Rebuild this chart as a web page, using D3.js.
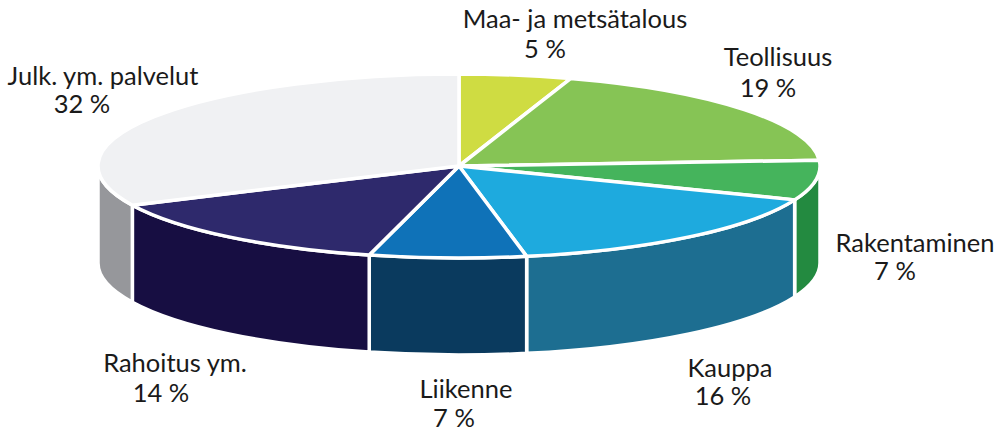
<!DOCTYPE html>
<html>
<head>
<meta charset="utf-8">
<script src="https://cdn.jsdelivr.net/npm/d3@7"></script>
<style>
  html, body { margin: 0; padding: 0; background: #fff; }
  svg { display: block; }
  text { font-family: Lato, "Open Sans", sans-serif; fill: #1a1a1a; }
</style>
</head>
<body>
<svg id="chart" width="1001" height="431"></svg>
<script>
// ---- data ----
const categories = ["Maa- ja metsätalous", "Teollisuus", "Rakentaminen", "Kauppa", "Liikenne", "Rahoitus ym.", "Julk. ym. palvelut"];
const values = [5, 19, 7, 16, 7, 14, 32];
const topColors = ["#cfdc42", "#86c455", "#45b45c", "#1eaade", "#0f72b8", "#2e296c", "#f0f1f3"];
const sideColors = ["#b5c232", "#6ea845", "#238a40", "#1d6e91", "#0a3a5e", "#170e42", "#96979b"];
// label anchors (title line x,y ; value line x,y)
const labelLayout = [
  [575, 28, 545, 58],
  [778, 66, 768, 97],
  [915, 252, 895, 280],
  [730, 377, 723, 405],
  [466, 398, 454, 427],
  [175, 372, 161, 402],
  [103, 85, 82, 113]
];

// ---- geometry ----
const cx = 459, cy = 166, rx = 361, ry = 92, depth = 97;
const svg = d3.select("#chart");

const pie = d3.pie().sort(null).value(d => d.value).startAngle(0).endAngle(2 * Math.PI);
const data = categories.map((c, i) => ({ name: c, value: values[i], top: topColors[i], side: sideColors[i], lab: labelLayout[i] }));
const arcs = pie(data);

const px = a => cx + rx * Math.sin(a);
const py = (a, dz = 0) => cy - ry * Math.cos(a) + dz;

function topPath(d) {
  const a0 = d.startAngle, a1 = d.endAngle;
  const large = (a1 - a0) > Math.PI ? 1 : 0;
  return `M${cx},${cy}L${px(a0)},${py(a0)}A${rx},${ry} 0 ${large} 1 ${px(a1)},${py(a1)}Z`;
}
function sidePath(d) {
  const lo = Math.PI / 2, hi = 3 * Math.PI / 2;
  const a0 = Math.max(d.startAngle, lo), a1 = Math.min(d.endAngle, hi);
  if (a1 <= a0) return null;
  return `M${px(a0)},${py(a0)}A${rx},${ry} 0 0 1 ${px(a1)},${py(a1)}` +
         `L${px(a1)},${py(a1, depth)}A${rx},${ry} 0 0 0 ${px(a0)},${py(a0, depth)}Z`;
}

const g = svg.append("g");
g.selectAll("path.side")
  .data(arcs.filter(d => sidePath(d)))
  .join("path")
  .attr("class", "side")
  .attr("d", sidePath)
  .attr("fill", d => d.data.side)
  .attr("stroke", "#fff")
  .attr("stroke-width", 3.5)
  .attr("stroke-linejoin", "round");

g.selectAll("path.top")
  .data(arcs)
  .join("path")
  .attr("class", "top")
  .attr("d", topPath)
  .attr("fill", d => d.data.top)
  .attr("stroke", "#fff")
  .attr("stroke-width", 3.5)
  .attr("stroke-linejoin", "round");

// ---- labels ----
const lab = svg.append("g").attr("font-size", 25.5).attr("text-anchor", "middle");
arcs.forEach(d => {
  const [x1, y1, x2, y2] = d.data.lab;
  lab.append("text").attr("x", x1).attr("y", y1).text(d.data.name);
  lab.append("text").attr("x", x2).attr("y", y2).text(d.data.value + " %");
});
</script>
</body>
</html>
